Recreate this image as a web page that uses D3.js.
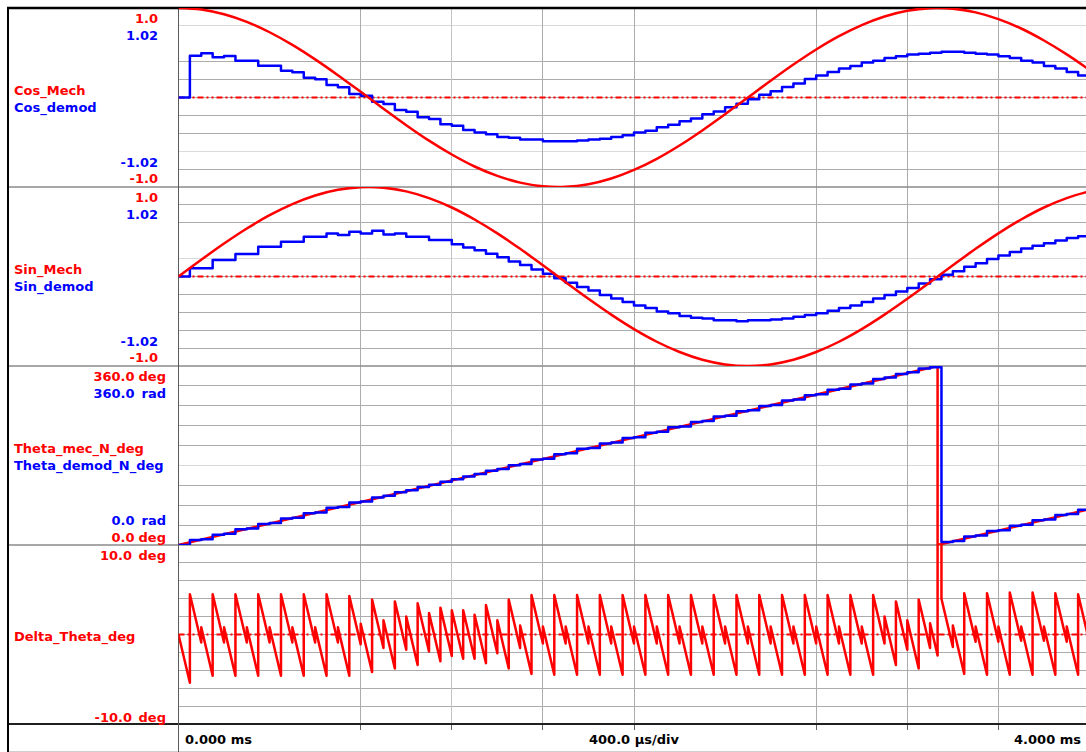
<!DOCTYPE html>
<html>
<head>
<meta charset="utf-8">
<title>Resolver demodulation</title>
<script src="https://cdn.jsdelivr.net/npm/d3@7/dist/d3.min.js"></script>
<style>
  html, body { margin: 0; padding: 0; background: #fff; }
  svg { display: block; }
  text { font-family: "DejaVu Sans", Verdana, sans-serif; font-weight: bold; font-size: 13px; }
</style>
</head>
<body>
<svg id="scope" width="1086" height="752"></svg>
<script>
// ---------------- data ----------------
const sampleStepMs = 0.05;   // demodulator update period
const mechStepMs = 0.1;      // spacing of the mechanical reference samples
const spanMs = 4.0;

const cosMech = [1.000, 0.982, 0.930, 0.845, 0.729, 0.588, 0.426, 0.249, 0.063, -0.125,
  -0.309, -0.482, -0.637, -0.771, -0.876, -0.951, -0.992, -0.998, -0.969, -0.905,
  -0.809, -0.685, -0.536, -0.368, -0.187, 0.000, 0.187, 0.368, 0.536, 0.685,
  0.809, 0.905, 0.969, 0.998, 0.992, 0.951, 0.876, 0.771, 0.637, 0.482, 0.309];

const sinMech = [0.000, 0.187, 0.368, 0.536, 0.685, 0.809, 0.905, 0.969, 0.998, 0.992,
  0.951, 0.876, 0.771, 0.637, 0.482, 0.309, 0.125, -0.063, -0.249, -0.426,
  -0.588, -0.729, -0.844, -0.930, -0.982, -1.000, -0.982, -0.930, -0.844, -0.729,
  -0.588, -0.426, -0.249, -0.063, 0.125, 0.309, 0.482, 0.637, 0.771, 0.876, 0.951];

const cosDemod = [0, 0.476, 0.504, 0.458, 0.473, 0.419, 0.419, 0.362, 0.362, 0.305,
  0.287, 0.226, 0.208, 0.142, 0.116, 0.040, 0.021, -0.048, -0.074, -0.142,
  -0.162, -0.226, -0.245, -0.305, -0.321, -0.370, -0.40, -0.42, -0.45, -0.46,
  -0.48, -0.48, -0.50, -0.50, -0.50, -0.49, -0.48, -0.47, -0.45, -0.43,
  -0.40, -0.38, -0.34, -0.31, -0.27, -0.24, -0.19, -0.16, -0.11, -0.07,
  -0.02, 0.03, 0.07, 0.12, 0.16, 0.21, 0.25, 0.29, 0.33, 0.36,
  0.40, 0.42, 0.45, 0.47, 0.49, 0.50, 0.51, 0.52, 0.52, 0.51,
  0.50, 0.49, 0.47, 0.45, 0.42, 0.40, 0.36, 0.33, 0.29, 0.25, 0.17];

const sinDemod = [0, 0.093, 0.093, 0.188, 0.188, 0.256, 0.256, 0.34, 0.34, 0.397,
  0.397, 0.454, 0.454, 0.49, 0.473, 0.51, 0.49, 0.52, 0.48, 0.49,
  0.454, 0.454, 0.416, 0.416, 0.367, 0.33, 0.30, 0.26, 0.22, 0.17,
  0.13, 0.08, 0.03, -0.02, -0.07, -0.12, -0.16, -0.21, -0.25, -0.29,
  -0.33, -0.36, -0.40, -0.42, -0.45, -0.47, -0.48, -0.50, -0.50, -0.51,
  -0.50, -0.50, -0.49, -0.48, -0.46, -0.44, -0.42, -0.39, -0.36, -0.33,
  -0.29, -0.25, -0.21, -0.17, -0.13, -0.08, -0.03, 0.02, 0.06, 0.11,
  0.15, 0.20, 0.24, 0.28, 0.32, 0.35, 0.38, 0.41, 0.44, 0.46, 0.48];

// mechanical angle: linear ramp with one roll-over
const thetaMecTimeMs = [0, 3.333, 3.333, 4.0];
const thetaMecDeg = [0, 360, 0, 72];

const thetaDemodDeg = [0, 9.9, 11.6, 20.7, 22.4, 31.5, 33.2, 42.3, 44.0, 53.1,
  54.8, 63.9, 65.6, 74.7, 76.4, 85.3, 87.6, 95.7, 98.8, 106.3,
  110.0, 116.9, 121.2, 127.2, 132.3, 137.7, 142.6, 149.1, 152.8, 160.5,
  163.0, 171.8, 173.7, 182.6, 184.5, 193.4, 195.3, 204.2, 206.1, 215.0,
  216.9, 225.8, 227.7, 236.6, 238.5, 247.4, 249.3, 258.2, 260.1, 269.0,
  270.9, 279.8, 281.7, 290.6, 292.5, 301.4, 303.3, 312.2, 314.1, 323.0,
  324.9, 333.8, 336.8, 343.9, 347.2, 354.9, 357.65, 5.8, 8.2, 17.2,
  18.9, 28.0, 29.7, 38.9, 40.5, 49.7, 51.3, 60.4, 62.1, 71.1, 72.9];

// angle error: value right after each demodulator update, and right before the next one
const deltaAfterStep = [0, 4.5, 0.8, 4.5, 0.8, 4.5, 0.8, 4.5, 0.8, 4.5,
  0.8, 4.5, 0.8, 4.5, 0.8, 4.3, 1.2, 3.9, 1.6, 3.7,
  2.0, 3.5, 2.4, 3.0, 2.7, 2.7, 2.2, 3.3, 1.6, 3.9,
  1.0, 4.4, 0.9, 4.4, 0.9, 4.4, 0.9, 4.4, 0.9, 4.4,
  0.9, 4.4, 0.9, 4.4, 0.9, 4.4, 0.9, 4.4, 0.9, 4.4,
  0.9, 4.4, 0.9, 4.4, 0.9, 4.4, 0.9, 4.4, 0.9, 4.4,
  0.9, 4.4, 2.0, 3.7, 1.6, 3.9, 1.25, 4.0, 1.0, 4.6,
  0.9, 4.6, 0.9, 4.7, 0.9, 4.7, 0.9, 4.6, 0.9, 4.5];
const deltaBeforeStep = [-5.4, -0.9, -4.6, -0.9, -4.6, -0.9, -4.6, -0.9, -4.6, -0.9,
  -4.6, -0.9, -4.6, -0.9, -4.6, -1.1, -4.2, -1.5, -3.8, -1.7,
  -3.4, -1.9, -3.0, -2.4, -2.7, -2.7, -3.2, -2.1, -3.8, -1.5,
  -4.4, -1.0, -4.5, -1.0, -4.5, -1.0, -4.5, -1.0, -4.5, -1.0,
  -4.5, -1.0, -4.5, -1.0, -4.5, -1.0, -4.5, -1.0, -4.5, -1.0,
  -4.5, -1.0, -4.5, -1.0, -4.5, -1.0, -4.5, -1.0, -4.5, -1.0,
  -4.5, -1.0, -3.4, -1.7, -3.8, -1.5, 355.85, -1.4, -4.4, -0.8,
  -4.5, -0.8, -4.5, -0.7, -4.5, -0.7, -4.5, -0.8, -4.5, -0.9];
const wrapMs = 3.333;                 // theta_mec roll-over instant
const wrapDeltaDeg = [-2.35, 357.65]; // error just before / just after the roll-over

const timeLabels = ["0.000 ms", "400.0 \u00b5s/div", "4.000 ms"];

// ---------------- layout ----------------
const RED = "#ff0000", BLUE = "#0000ff";
const svg = d3.select("#scope");
const W = 1086, H = 752;
const frameLeft = 8, frameTop = 8, plotLeft = 178.5, axisY = 724;

const x = d3.scaleLinear().domain([0, spanMs]).range([plotLeft, 1089.5]);

// grid tones per division line (bottom to top): d = normal, l = faint, - = not shown
const panels = [
  { top: 8,   bottom: 187, red: [-1, 1],   blue: [-1.02, 1.02], divs: 10, zero: true,  tones: "dlddddd-l" },
  { top: 187, bottom: 366, red: [-1, 1],   blue: [-1.02, 1.02], divs: 10, zero: true,  tones: "dddddl-dd" },
  { top: 366, bottom: 545, red: [0, 360],  blue: [0, 360],      divs: 9,  zero: false, tones: "dddldddd" },
  { top: 545, bottom: 724, red: [-10, 10], blue: [-10, 10],     divs: 10, zero: true,  tones: "ddddddddd" }
];
const toneColor = { d: "#acacac", l: "#dadada" };
panels.forEach((p, i) => {
  p.yRed = d3.scaleLinear().domain(p.red).range([p.bottom, p.top]);
  p.yBlue = d3.scaleLinear().domain(p.blue).range([p.bottom, p.top]);
  svg.append("clipPath").attr("id", "clip" + i)
    .append("rect").attr("x", plotLeft).attr("y", p.top)
    .attr("width", W - plotLeft).attr("height", p.bottom - p.top);
});

const crisp = v => Math.round(v - 0.5) + 0.5;

// ---- grid ----
const grid = svg.append("g");
panels.forEach(p => {
  const step = (p.red[1] - p.red[0]) / p.divs;
  d3.range(1, p.divs).forEach(j => {
    const code = p.tones[j - 1];
    if (code === "-") return;
    const yy = crisp(p.yRed(p.red[0] + j * step));
    grid.append("line").attr("x1", plotLeft).attr("x2", W)
      .attr("y1", yy).attr("y2", yy)
      .attr("stroke", toneColor[code]).attr("stroke-width", 1);
  });
});
const timeTicks = d3.range(1, 10).map(i => i * 0.4);
const timeTones = "-dldd-ddd";
timeTicks.forEach((t, i) => {
  if (timeTones[i] === "-") return;
  const xx = crisp(x(t));
  grid.append("line").attr("x1", xx).attr("x2", xx)
    .attr("y1", frameTop).attr("y2", axisY)
    .attr("stroke", timeTones[i] === "l" ? "#c4c4c4" : "#acacac").attr("stroke-width", 1);
  grid.append("line").attr("x1", xx).attr("x2", xx)
    .attr("y1", axisY).attr("y2", axisY + 6)
    .attr("stroke", "#606060").attr("stroke-width", 1);
});

// ---- frame ----
const frame = svg.append("g");
[187, 366, 545].forEach(yy => {
  frame.append("line").attr("x1", frameLeft).attr("x2", W).attr("y1", yy).attr("y2", yy)
    .attr("stroke", "#8a8a8a").attr("stroke-width", 1.6);
});
frame.append("line").attr("x1", frameLeft).attr("x2", W).attr("y1", axisY).attr("y2", axisY)
  .attr("stroke", "#202020").attr("stroke-width", 1.8);
frame.append("line").attr("x1", frameLeft).attr("x2", W).attr("y1", 751.5).attr("y2", 751.5)
  .attr("stroke", "#cfcfcf").attr("stroke-width", 1);
frame.append("line").attr("x1", plotLeft).attr("x2", plotLeft).attr("y1", frameTop).attr("y2", H)
  .attr("stroke", "#5a5a5a").attr("stroke-width", 1);
frame.append("line").attr("x1", frameLeft - 1).attr("x2", W).attr("y1", frameTop).attr("y2", frameTop)
  .attr("stroke", "#000").attr("stroke-width", 2.5);
frame.append("line").attr("x1", frameLeft).attr("x2", frameLeft).attr("y1", frameTop).attr("y2", H)
  .attr("stroke", "#000").attr("stroke-width", 2);

// ---- zero reference lines ----
panels.forEach((p, i) => {
  if (!p.zero) return;
  const yy = p.yRed(0);
  svg.append("line").attr("clip-path", `url(#clip${i})`)
    .attr("x1", plotLeft).attr("x2", W).attr("y1", yy).attr("y2", yy)
    .attr("stroke", RED).attr("stroke-width", 2)
    .attr("stroke-dasharray", "6,3,2,3,2,3");
});

// ---- traces ----
function stepTrace(values, y) {
  const pts = values.map((v, k) => [x(k * sampleStepMs), y(v)]);
  pts.push([x(values.length * sampleStepMs), y(values[values.length - 1])]);
  return d3.line().curve(d3.curveStepAfter)(pts);
}
function smoothTrace(values, y) {
  return d3.line().curve(d3.curveCatmullRom)(values.map((v, k) => [x(k * mechStepMs), y(v)]));
}
function draw(i, d, color) {
  svg.append("path").attr("clip-path", `url(#clip${i})`).attr("d", d)
    .attr("fill", "none").attr("stroke", color).attr("stroke-width", 2.5)
    .attr("stroke-linejoin", "round");
}

// Cos panel
draw(0, stepTrace(cosDemod, panels[0].yBlue), BLUE);
draw(0, smoothTrace(cosMech, panels[0].yRed), RED);
// Sin panel
draw(1, stepTrace(sinDemod, panels[1].yBlue), BLUE);
draw(1, smoothTrace(sinMech, panels[1].yRed), RED);
// Angle panel
draw(2, d3.line()(thetaMecTimeMs.map((t, k) => [x(t), panels[2].yRed(thetaMecDeg[k])])), RED);
draw(2, stepTrace(thetaDemodDeg, panels[2].yBlue), BLUE);
// Error panel
const deltaPts = [];
deltaAfterStep.forEach((v, k) => {
  deltaPts.push([k * sampleStepMs, v]);
  if (wrapMs > k * sampleStepMs && wrapMs < (k + 1) * sampleStepMs) {
    deltaPts.push([wrapMs, wrapDeltaDeg[0]], [wrapMs, wrapDeltaDeg[1]]);
  }
  deltaPts.push([(k + 1) * sampleStepMs, deltaBeforeStep[k]]);
});
draw(3, d3.line()(deltaPts.map(d => [x(d[0]), panels[3].yRed(d[1])])), RED);

// ---- labels ----
const lab = svg.append("g");
function txt(s, xx, yy, color, anchor) {
  lab.append("text").attr("x", xx).attr("y", yy).attr("fill", color)
    .attr("text-anchor", anchor || "start").style("white-space", "pre").text(s);
}
const nameX = 14, numX = 158, valX = 134.5, unitX = 166;
[["Cos_Mech", "Cos_demod"], ["Sin_Mech", "Sin_demod"]].forEach((names, i) => {
  const t = panels[i].top;
  txt(panels[i].red[1].toFixed(1), numX, t + 14.5, RED, "end");
  txt(panels[i].blue[1].toFixed(2), numX, t + 31.5, BLUE, "end");
  txt(names[0], nameX, t + 87, RED);
  txt(names[1], nameX, t + 103.5, BLUE);
  txt(panels[i].blue[0].toFixed(2), numX, t + 158.5, BLUE, "end");
  txt(panels[i].red[0].toFixed(1), numX, t + 175, RED, "end");
});
{
  const t = panels[2].top;
  txt(panels[2].red[1].toFixed(1), valX, t + 14.5, RED, "end");  txt("deg", unitX, t + 14.5, RED, "end");
  txt(panels[2].blue[1].toFixed(1), valX, t + 31.5, BLUE, "end"); txt("rad", unitX, t + 31.5, BLUE, "end");
  txt("Theta_mec_N_deg", nameX, t + 86.5, RED);
  txt("Theta_demod_N_deg", nameX, t + 103.5, BLUE);
  txt(panels[2].blue[0].toFixed(1), valX, t + 159, BLUE, "end");  txt("rad", unitX, t + 159, BLUE, "end");
  txt(panels[2].red[0].toFixed(1), valX, t + 175.5, RED, "end");  txt("deg", unitX, t + 175.5, RED, "end");
}
{
  const t = panels[3].top;
  txt(panels[3].red[1].toFixed(1), 132, t + 15, RED, "end");  txt("deg", unitX, t + 15, RED, "end");
  txt("Delta_Theta_deg", nameX, t + 96, RED);
  txt(panels[3].red[0].toFixed(1), 132, t + 176.5, RED, "end"); txt("deg", unitX, t + 176.5, RED, "end");
}
txt(timeLabels[0], 185, 744, "#000", "start");
txt(timeLabels[1], x(2.0), 744, "#000", "middle");
txt(timeLabels[2], 1081, 744, "#000", "end");
</script>
</body>
</html>
